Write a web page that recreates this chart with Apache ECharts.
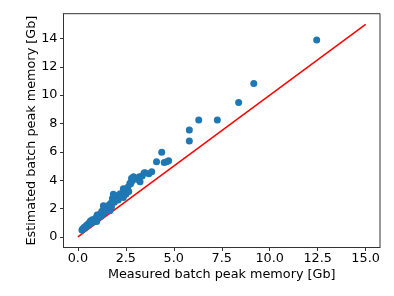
<!DOCTYPE html>
<html>
<head>
<meta charset="utf-8">
<script src="https://cdn.jsdelivr.net/npm/echarts@6/dist/echarts.min.js"></script>
<style>html,body{margin:0;padding:0;background:#fff;}#c{width:394px;height:296px;}</style>
</head>
<body>
<div id="c"></div>
<script>
const measured = [0.21,0.25,0.3,0.35,0.4,0.45,0.5,0.55,0.6,0.65,0.7,0.75,0.8,0.9,0.95,0.98,1.0,1.05,1.1,1.15,1.2,1.25,1.3,1.33,1.35,1.4,1.45,1.5,1.55,1.6,1.67,1.7,1.75,1.8,1.85,1.9,2.0,2.1,2.2,2.3,2.37,2.37,2.4,2.5,2.6,2.65,2.71,2.75,2.8,2.8,2.9,3.06,3.2,3.24,3.35,3.45,3.5,3.7,3.85,4.1,4.37,4.5,4.63,4.73,5.81,5.81,6.3,7.27,8.38,9.17,12.45];
const estimated = [0.48,0.55,0.62,0.7,0.68,0.82,0.78,0.95,0.9,1.12,0.98,1.2,1.1,1.3,1.22,1.08,1.55,1.35,1.5,1.62,1.45,1.8,1.6,2.2,1.95,1.75,2.0,1.85,2.2,1.95,1.85,2.35,2.1,2.7,3.0,2.45,2.9,2.6,3.05,2.85,3.4,2.78,3.2,3.0,3.5,3.2,3.78,3.75,3.9,4.13,4.25,4.06,4.25,3.89,4.3,4.5,4.53,4.45,4.6,5.3,5.97,5.25,5.3,5.37,6.76,7.54,8.24,8.24,9.49,10.83,13.89];
const refLineX = [0, 15];
const refLineY = [0, 15];
const xTicks = [0, 2.5, 5, 7.5, 10, 12.5, 15];
const yTicks = [0, 2, 4, 6, 8, 10, 12, 14];

const font = 'DejaVu Sans';
const fs = 12.8;
const chart = echarts.init(document.getElementById('c'), null, {renderer: 'canvas'});
chart.setOption({
  animation: false,
  grid: {left: 63.5, right: 14, top: 13.7, bottom: 48.5, show: true, borderColor: '#333', borderWidth: 1},
  xAxis: {
    type: 'value', min: -0.75, max: 15.75,
    name: 'Measured batch peak memory [Gb]', nameLocation: 'middle', nameGap: 21, nameMoveOverlap: false,
    nameTextStyle: {fontFamily: font, fontSize: fs, color: '#000'},
    axisLine: {show: true, onZero: false, lineStyle: {color: '#333', width: 1}},
    axisTick: {show: true, customValues: xTicks, length: 3.5, lineStyle: {color: '#333'}},
    axisLabel: {customValues: xTicks, formatter: v => v.toFixed(1), fontFamily: font, fontSize: fs, color: '#000', margin: 5},
    splitLine: {show: false}
  },
  yAxis: {
    type: 'value', min: -0.75, max: 15.75,
    name: 'Estimated batch peak memory [Gb]', nameLocation: 'middle', nameGap: 25, nameRotate: 90, nameMoveOverlap: false,
    nameTextStyle: {fontFamily: font, fontSize: fs, color: '#000'},
    axisLine: {show: true, onZero: false, lineStyle: {color: '#333', width: 1}},
    axisTick: {show: true, customValues: yTicks, length: 3.5, lineStyle: {color: '#333'}},
    axisLabel: {customValues: yTicks, formatter: v => String(v), fontFamily: font, fontSize: fs, color: '#000', margin: 6},
    splitLine: {show: false}
  },
  series: [
    {
      type: 'line', data: refLineX.map((x, i) => [x, refLineY[i]]),
      showSymbol: false, symbol: 'none', lineStyle: {color: 'red', width: 1.5}, z: 1
    },
    {
      type: 'scatter', data: measured.map((x, i) => [x, estimated[i]]),
      symbolSize: 7, itemStyle: {color: '#1f77b4', opacity: 1}, z: 2
    }
  ]
});
</script>
</body>
</html>
